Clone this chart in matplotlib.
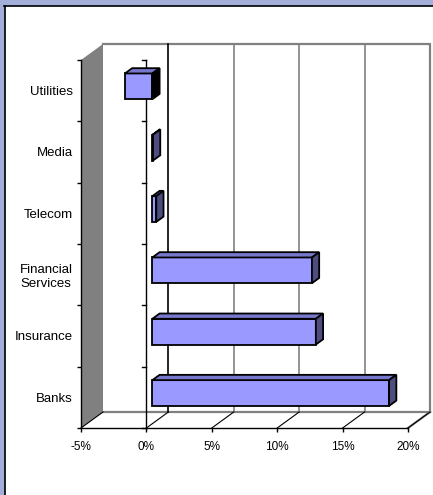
import matplotlib
matplotlib.use("Agg")
import matplotlib.pyplot as plt
from matplotlib.patches import Polygon, Rectangle

categories = ["Banks", "Insurance", "Financial\nServices", "Telecom", "Media", "Utilities"]
values = [18.1, 12.5, 12.2, 0.3, 0.05, -2.1]
xticks = [-5, 0, 5, 10, 15, 20]
xtick_labels = ["-5%", "0%", "5%", "10%", "15%", "20%"]

W, H = 433, 495
fig = plt.figure(figsize=(W / 100, H / 100), dpi=100)
fig.patch.set_facecolor("white")

# frame (lavender band + black border line at top and left)
lav = "#A4AFD9"
fig.patches.append(Rectangle((0, 1 - 5 / H), 1, 5 / H, transform=fig.transFigure, color=lav, zorder=0))
fig.patches.append(Rectangle((0, 0), 4 / W, 1, transform=fig.transFigure, color=lav, zorder=0))
fig.lines.append(plt.Line2D([4 / W, 1], [1 - 5.5 / H, 1 - 5.5 / H], transform=fig.transFigure, color="black", lw=1.2))
fig.lines.append(plt.Line2D([4.5 / W, 4.5 / W], [0, 1 - 5.5 / H], transform=fig.transFigure, color="black", lw=1.2))

# front plane pixels
x0px, x1px = 81, 408
ytop, ybot = 60, 428
ax = fig.add_axes([x0px / W, (H - ybot) / H, (x1px - x0px) / W, (ybot - ytop) / H])
ax.set_xlim(-5, 20)
ax.set_ylim(0, 6)
ax.set_facecolor("none")

pxx = (x1px - x0px) / 25.0
pxy = (ybot - ytop) / 6.0
DX = 22 / pxx
DY = 16 / pxy

gray = "#808080"
# left side wall
ax.add_patch(Polygon([(-5, 0), (-5 + DX, DY), (-5 + DX, 6 + DY), (-5, 6)], closed=True,
                     facecolor=gray, edgecolor="none", clip_on=False, zorder=1))
# back wall border
ax.plot([-5 + DX, 20 + DX, 20 + DX], [6 + DY, 6 + DY, DY], color=gray, lw=1.6, clip_on=False, zorder=2)
# floor back edge and right edge
ax.plot([-5 + DX, 20 + DX], [DY, DY], color=gray, lw=1.6, clip_on=False, zorder=2)
ax.plot([20, 20 + DX], [0, DY], color=gray, lw=1.6, clip_on=False, zorder=2)
# back wall gridlines
for t in xticks[1:]:
    c = "black" if t == 0 else gray
    ax.plot([t + DX, t + DX], [DY, 6 + DY], color=c, lw=1.2, clip_on=False, zorder=2)
# floor diagonals
for t in xticks:
    ax.plot([t, t + DX], [0, DY], color="black", lw=0.8, clip_on=False, zorder=2)

# zero axis line with ticks
ax.plot([0, 0], [0, 6], color="black", lw=1.0, clip_on=False, zorder=3)
tl = 4 / pxx
for k in range(7):
    ax.plot([-tl, 0], [k, k], color="black", lw=1.0, clip_on=False, zorder=3)

# bars
f1, f2 = 0.27, 0.60
bh = 0.42
d_x = (f2 - f1) * DX
d_y = (f2 - f1) * DY
front_c, top_c, side_c = "#9999FF", "#7777CC", "#4D4D80"
ys = [i + 0.5 + f1 * DY for i in range(len(values))]
ax.barh(ys, values, height=bh, left=f1 * DX, color=front_c, edgecolor="black", lw=1.3, zorder=5)
for y, v in zip(ys, values):
    a, b = sorted([f1 * DX, f1 * DX + v])
    yt = y + bh / 2
    yb = y - bh / 2
    ax.add_patch(Polygon([(a, yt), (b, yt), (b + d_x, yt + d_y), (a + d_x, yt + d_y)], closed=True,
                         facecolor=top_c, edgecolor="black", lw=1.3, zorder=5, clip_on=False))
    sc = "black" if v < 0 else side_c
    ax.add_patch(Polygon([(b, yb), (b, yt), (b + d_x, yt + d_y), (b + d_x, yb + d_y)], closed=True,
                         facecolor=sc, edgecolor="black", lw=1.3, zorder=5, clip_on=False))

# spines and ticks
for s in ["top", "right"]:
    ax.spines[s].set_visible(False)
ax.spines["left"].set_linewidth(1.0)
ax.spines["bottom"].set_linewidth(1.0)
ax.spines["left"].set_zorder(3)
ax.spines["bottom"].set_zorder(3)
ax.set_xticks(xticks)
ax.set_xticklabels(xtick_labels, fontsize=8.5, family="Liberation Sans")
ax.tick_params(axis="x", direction="out", length=3, width=1.0, pad=6)
ax.set_yticks(range(7))
ax.set_yticklabels([])
ax.tick_params(axis="y", which="major", direction="out", length=3, width=1.0)
ax.set_yticks([i + 0.5 for i in range(len(categories))], minor=True)
ax.set_yticklabels(categories, minor=True, fontsize=9.5, family="Liberation Sans", multialignment="center")
ax.tick_params(axis="y", which="minor", length=0, pad=6)

fig.savefig("out.png", dpi=100)
